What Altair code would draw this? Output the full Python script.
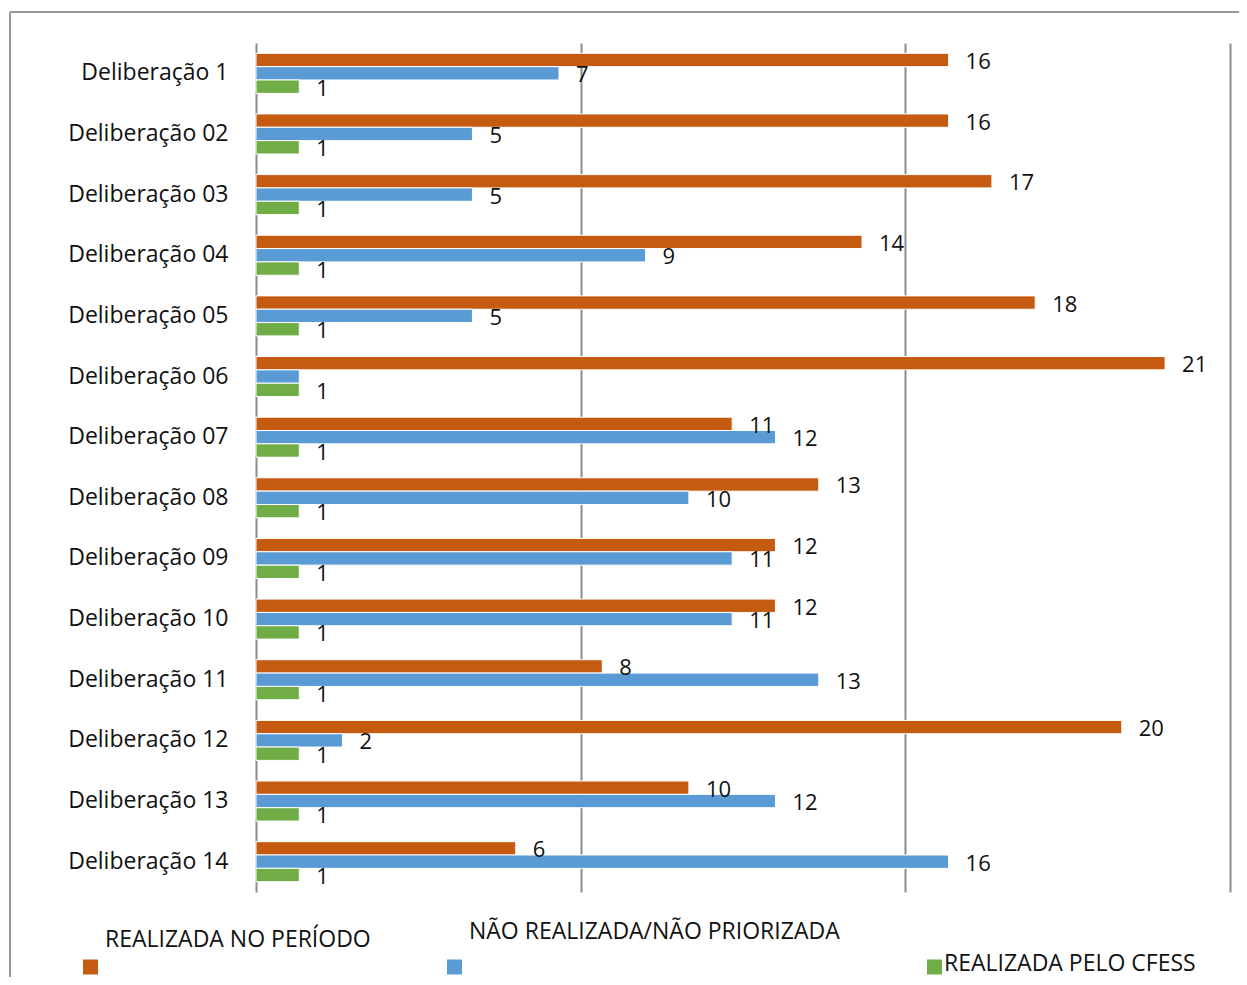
import altair as alt
import pandas as pd

categories = [
    "Deliberação 1", "Deliberação 02", "Deliberação 03", "Deliberação 04",
    "Deliberação 05", "Deliberação 06", "Deliberação 07", "Deliberação 08",
    "Deliberação 09", "Deliberação 10", "Deliberação 11", "Deliberação 12",
    "Deliberação 13", "Deliberação 14",
]
series = ["REALIZADA NO PERÍODO", "NÃO REALIZADA/NÃO PRIORIZADA", "REALIZADA PELO CFESS"]
colors = ["#C55A11", "#5B9BD5", "#70AD47"]

realizada = [16, 16, 17, 14, 18, 21, 11, 13, 12, 12, 8, 20, 10, 6]
nao_realizada = [7, 5, 5, 9, 5, 1, 12, 10, 11, 11, 13, 2, 12, 16]
cfess = [1, 1, 1, 1, 1, 1, 1, 1, 1, 1, 1, 1, 1, 1]

grid_values = [0, 7.5, 15, 22.5]
hidden_labels = [("Deliberação 06", "NÃO REALIZADA/NÃO PRIORIZADA")]

FONT = "Open Sans"
W, H = 974, 849

rows = []
for s, vals in zip(series, [realizada, nao_realizada, cfess]):
    for c, v in zip(categories, vals):
        rows.append({"cat": c, "series": s, "value": v,
                     "show": (c, s) not in hidden_labels})
df = pd.DataFrame(rows)

x_enc = alt.X(
    "value:Q",
    scale=alt.Scale(domain=[0, 22.5], nice=False, zero=True),
    axis=alt.Axis(values=grid_values, grid=True, labels=False, ticks=False,
                  domain=False, title=None, gridColor="#8c8c8c", gridWidth=2),
)
y_enc = alt.Y(
    "cat:N", sort=categories,
    scale=alt.Scale(paddingInner=0.34, paddingOuter=0.17),
    axis=alt.Axis(title=None, ticks=False, domain=False, labelFontSize=23,
                  labelFont=FONT, labelColor="#111111", labelPadding=28,
                  labelLimit=400),
)
yoff_enc = alt.YOffset("series:N", sort=series,
                       scale=alt.Scale(paddingInner=0, paddingOuter=0))
color_enc = alt.Color("series:N", scale=alt.Scale(domain=series, range=colors),
                      legend=None)

bars = alt.Chart(df).mark_bar(stroke="white", strokeWidth=1).encode(
    x=x_enc, y=y_enc, yOffset=yoff_enc, color=color_enc
)
labels = alt.Chart(df).transform_filter("datum.show").mark_text(
    align="left", baseline="middle", dx=17, dy=2, fontSize=22, font=FONT,
    color="#111111"
).encode(x=x_enc, y=y_enc, yOffset=yoff_enc, text="value:Q")

one = pd.DataFrame({"k": [0]})
frame_top = alt.Chart(one).mark_rule(color="#999999", strokeWidth=2).encode(
    x=alt.value(-246), x2=alt.value(W + 60), y=alt.value(-31))
frame_left = alt.Chart(one).mark_rule(color="#999999", strokeWidth=2).encode(
    x=alt.value(-246), y=alt.value(-31), y2=alt.value(H + 200))

# legend (manual, mimicking the wrapped Excel legend layout)
legend_square_pos = [(-165.5, 924), (198.5, 924), (678.5, 924)]
legend_text_pos = [(-151, 897), (213, 889), (688, 921)]
legend_layers = []
for name, col, (sx, sy), (tx, ty) in zip(series, colors, legend_square_pos, legend_text_pos):
    legend_layers.append(
        alt.Chart(one).mark_square(size=225, color=col, opacity=1).encode(
            x=alt.value(sx), y=alt.value(sy))
    )
    legend_layers.append(
        alt.Chart(one).mark_text(align="left", baseline="middle", fontSize=23,
                                 font=FONT, color="#111111").encode(
            x=alt.value(tx), y=alt.value(ty), text=alt.value(name))
    )

chart = alt.layer(bars, labels, frame_top, frame_left, *legend_layers).properties(
    width=W, height=H,
    autosize=alt.AutoSizeParams(type="none"),
    padding={"left": 248, "top": 35, "right": 9, "bottom": 85},
    background="white",
).configure_view(stroke=None)

chart.save("out.html", embed_options={"renderer": "svg", "actions": False})
